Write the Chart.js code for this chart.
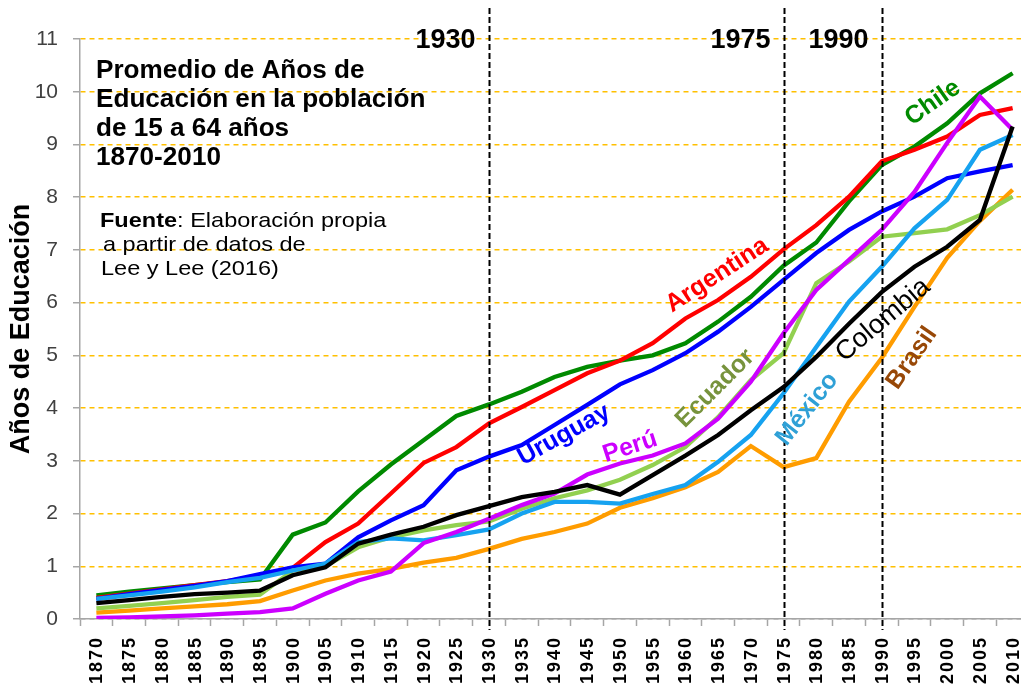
<!DOCTYPE html>
<html lang="es">
<head>
<meta charset="utf-8">
<title>Promedio de Años de Educación 1870-2010</title>
<style>
  html, body { margin: 0; padding: 0; overflow: hidden; background: #fff; }
  #wrap { width: 1040px; height: 688px; }
</style>
</head>
<body>
<div id="wrap"><canvas id="chart" width="1040" height="688"></canvas></div>
<script src="https://cdn.jsdelivr.net/npm/chart.js/dist/chart.umd.min.js"></script>
<script>
// data
const years = ['1870','1875','1880','1885','1890','1895','1900','1905','1910','1915',
  '1920','1925','1930','1935','1940','1945','1950','1955','1960','1965',
  '1970','1975','1980','1985','1990','1995','2000','2005','2010'];
const yTicks = [0,1,2,3,4,5,6,7,8,9,10,11];
const markYears = ['1930','1975','1990'];

const chile     = [0.45,0.52,0.58,0.64,0.70,0.75,1.60,1.83,2.42,2.93,3.39,3.85,4.07,4.31,4.59,4.78,4.90,5.00,5.23,5.64,6.11,6.70,7.14,7.92,8.61,8.96,9.40,9.97,10.35];
const argentina = [0.40,0.48,0.56,0.64,0.72,0.82,0.97,1.46,1.81,2.38,2.96,3.26,3.71,4.02,4.34,4.66,4.90,5.23,5.70,6.05,6.49,7.01,7.47,8.01,8.68,8.90,9.15,9.56,9.69];
const uruguay   = [0.38,0.47,0.55,0.63,0.72,0.85,0.98,1.05,1.55,1.87,2.16,2.82,3.08,3.30,3.68,4.06,4.45,4.72,5.04,5.45,5.92,6.43,6.94,7.38,7.73,8.01,8.36,8.49,8.61];
const peru      = [0.02,0.03,0.05,0.07,0.10,0.13,0.20,0.48,0.73,0.90,1.44,1.65,1.90,2.16,2.38,2.74,2.95,3.10,3.33,3.80,4.50,5.42,6.24,6.81,7.38,8.10,9.03,9.91,9.28];
const ecuador   = [0.20,0.25,0.30,0.36,0.42,0.46,0.92,1.00,1.36,1.55,1.68,1.78,1.85,2.09,2.29,2.44,2.64,2.92,3.26,3.83,4.53,5.04,6.37,6.78,7.25,7.32,7.39,7.66,8.01];
const mexico    = [0.38,0.45,0.52,0.60,0.70,0.78,0.92,1.05,1.46,1.53,1.49,1.59,1.70,2.00,2.22,2.22,2.19,2.37,2.54,2.98,3.49,4.28,5.16,6.02,6.68,7.41,7.95,8.90,9.18];
const colombia  = [0.30,0.36,0.42,0.47,0.50,0.54,0.83,0.98,1.43,1.60,1.75,1.97,2.14,2.31,2.41,2.54,2.36,2.73,3.10,3.49,3.96,4.40,4.97,5.60,6.20,6.68,7.06,7.57,9.34];
const brasil    = [0.12,0.16,0.20,0.24,0.28,0.34,0.54,0.73,0.86,0.95,1.07,1.16,1.33,1.52,1.65,1.81,2.11,2.29,2.50,2.79,3.28,2.88,3.05,4.12,4.95,5.92,6.85,7.55,8.14];

const FONT = "'Liberation Sans', Arial, sans-serif";

function line(label, data, color) {
  return { label, data, borderColor: color, backgroundColor: color,
    borderWidth: 4.3, pointRadius: 0, tension: 0, fill: false };
}

// country names written along the lines (index on x, value on y)
const countryLabels = [
  { text: 'Argentina', color: '#FF0000', at: [18.97, 6.52], angle: -33, font: 'bold 25px' },
  { text: 'Chile',     color: '#008A00', at: [25.56, 9.79], angle: -35, font: 'bold 25px' },
  { text: 'Uruguay',   color: '#0000FF', at: [14.29, 3.49], angle: -29, font: 'bold 25px' },
  { text: 'Perú',      color: '#CC00FF', at: [16.31, 3.26], angle: -18, font: 'bold 25px' },
  { text: 'Ecuador',   color: '#77933C', at: [18.91, 4.37], angle: -45, font: 'bold 25px' },
  { text: 'México',    color: '#2FA0D6', at: [21.72, 3.98], angle: -52, font: 'bold 25px' },
  { text: 'Colombia',  color: '#000000', at: [24.04, 5.67], angle: -40, font: '27px' },
  { text: 'Brasil',    color: '#984807', at: [24.92, 4.95], angle: -55, font: 'bold 25px' },
];

// text stretched a little wider than the font, like the picture
function wideText(ctx, text, x, y, sx) {
  ctx.save();
  ctx.translate(x, y);
  ctx.scale(sx, 1);
  ctx.fillText(text, 0, 0);
  const w = ctx.measureText(text).width * sx;
  ctx.restore();
  return w;
}

const overlay = {
  id: 'overlay',
  afterDatasetsDraw(chart) {
    const { ctx, scales: { x, y } } = chart;
    ctx.save();

    // dashed reference years
    ctx.strokeStyle = '#000';
    ctx.lineWidth = 2;
    ctx.setLineDash([6, 3]);
    ctx.font = 'bold 27px ' + FONT;
    ctx.fillStyle = '#000';
    ctx.textAlign = 'right';
    ctx.textBaseline = 'middle';
    markYears.forEach(yr => {
      const px = Math.round(x.getPixelForValue(years.indexOf(yr))) + 0.5;
      ctx.beginPath();
      ctx.moveTo(px, 8);
      ctx.lineTo(px, y.bottom + 11);
      ctx.stroke();
      ctx.fillText(yr, px - 14, 41);
    });
    ctx.setLineDash([]);

    // x tick labels, rotated, with loose letter spacing
    ctx.font = 'bold 18px ' + FONT;
    if ('letterSpacing' in ctx) ctx.letterSpacing = '2px';
    ctx.textAlign = 'right';
    years.forEach((yr, i) => {
      ctx.save();
      ctx.translate(x.getPixelForValue(i) + 1, y.bottom + 17);
      ctx.rotate(-Math.PI / 2);
      ctx.fillText(yr, 0, 0);
      ctx.restore();
    });
    if ('letterSpacing' in ctx) ctx.letterSpacing = '0px';

    // country names
    ctx.textAlign = 'center';
    countryLabels.forEach(l => {
      ctx.save();
      ctx.translate(x.getPixelForValue(l.at[0]), y.getPixelForValue(l.at[1]));
      ctx.rotate(l.angle * Math.PI / 180);
      ctx.font = l.font + ' ' + FONT;
      ctx.fillStyle = l.color;
      ctx.fillText(l.text, 0, 0);
      ctx.restore();
    });

    // title block
    ctx.textAlign = 'left';
    ctx.fillStyle = '#000';
    ctx.font = 'bold 25px ' + FONT;
    ['Promedio de Años de', 'Educación en la población', 'de 15 a 64 años', '1870-2010']
      .forEach((t, i) => wideText(ctx, t, 96, 71 + i * 29, 1.045));

    // source
    ctx.font = 'bold 21px ' + FONT;
    const w = wideText(ctx, 'Fuente', 100, 221, 1.12);
    ctx.font = '21px ' + FONT;
    wideText(ctx, ': Elaboración propia', 100 + w, 221, 1.12);
    wideText(ctx, 'a partir de datos de', 103, 245, 1.12);
    wideText(ctx, 'Lee y Lee (2016)', 101, 269, 1.12);

    ctx.restore();
  }
};

new Chart(document.getElementById('chart'), {
  type: 'line',
  data: {
    labels: years,
    datasets: [
      line('Colombia', colombia, '#000000'),
      line('Perú', peru, '#CC00FF'),
      line('México', mexico, '#16A2F0'),
      line('Ecuador', ecuador, '#92D050'),
      line('Brasil', brasil, '#FF9C00'),
      line('Uruguay', uruguay, '#0000FF'),
      line('Argentina', argentina, '#FF0000'),
      line('Chile', chile, '#008A00'),
    ]
  },
  options: {
    responsive: false,
    animation: false,
    layout: { padding: { top: 39, right: 11, left: 0, bottom: 0 } },
    plugins: { legend: { display: false }, tooltip: { enabled: false } },
    scales: {
      x: {
        type: 'category',
        offset: true,
        grid: { display: true, drawOnChartArea: false, drawTicks: true, offset: true,
          tickLength: 7, tickColor: '#A6A6A6', tickWidth: 1.5 },
        border: { color: '#A6A6A6', width: 1.5 },
        ticks: { display: false, autoSkip: false },
        afterFit(s) { s.height = 69; }
      },
      y: {
        min: yTicks[0],
        max: yTicks[yTicks.length - 1],
        afterBuildTicks(s) { s.ticks = yTicks.map(v => ({ value: v })); },
        grid: {
          color: c => c.tick && c.tick.value === 0 ? '#A6A6A6' : '#FFC000',
          lineWidth: 1.5, drawTicks: true, tickLength: 7, tickColor: '#A6A6A6', tickWidth: 1.5,
          tickBorderDash: []
        },
        border: { color: '#A6A6A6', width: 1.5, dash: [5, 4] },
        ticks: { padding: 15, color: '#404040', font: { family: FONT, size: 21 } },
        title: { display: true, text: 'Años de Educación', color: '#000',
          font: { family: FONT, weight: 'bold', size: 27 }, padding: { top: 5, bottom: 0 } },
        afterFit(s) { s.width = 80; }
      }
    }
  },
  plugins: [overlay]
});
</script>
</body>
</html>
